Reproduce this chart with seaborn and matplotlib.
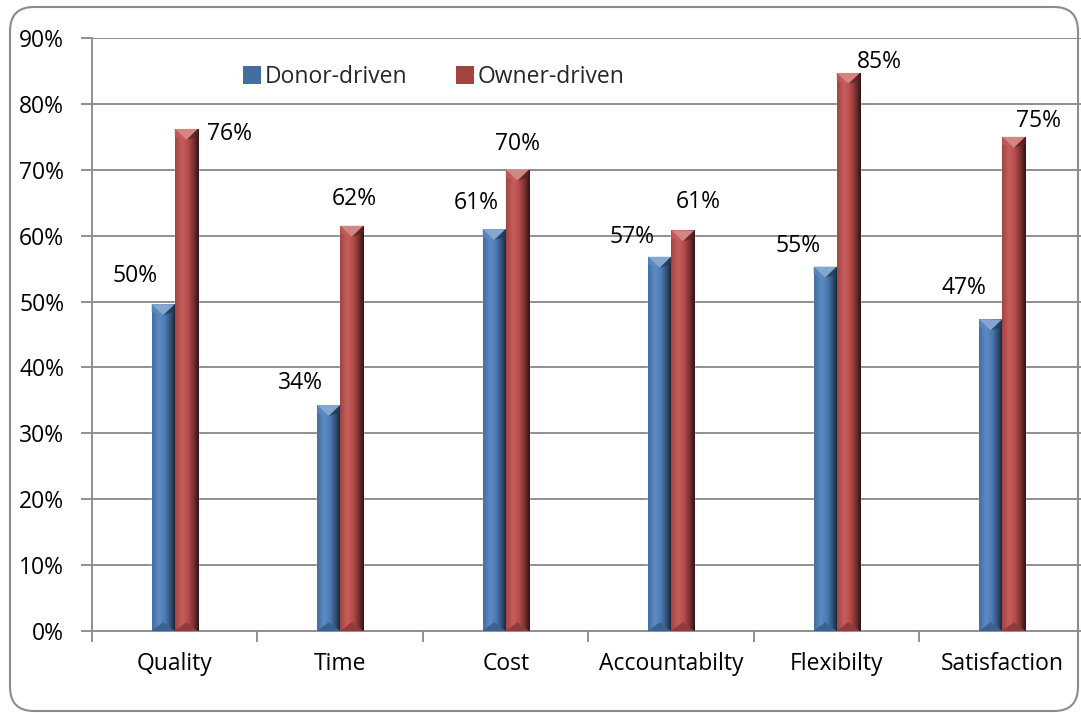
import numpy as np
import pandas as pd
import matplotlib
matplotlib.use("Agg")
import matplotlib.pyplot as plt
import matplotlib.colors as mcolors
from matplotlib.patches import FancyBboxPatch, Polygon, Patch
from matplotlib.ticker import PercentFormatter, FixedLocator
import seaborn as sns

categories = ["Quality", "Time", "Cost", "Accountabilty", "Flexibilty", "Satisfaction"]
series = ["Donor-driven", "Owner-driven"]
donor_values = [0.496, 0.343, 0.610, 0.568, 0.553, 0.473]
owner_values = [0.762, 0.615, 0.700, 0.608, 0.847, 0.750]
label_values = [["50%", "34%", "61%", "57%", "55%", "47%"],
                ["76%", "62%", "70%", "61%", "85%", "75%"]]
yticks = [0.0, 0.1, 0.2, 0.3, 0.4, 0.5, 0.6, 0.7, 0.8, 0.9]

# label offsets (pixels) from the top-centre of each bar
label_offsets = [
    [(-28, 28), (-28, 22), (-18, 26), (-28, 20), (-27, 21), (-27, 31)],
    [(43, -5), (2, 27), (0, 26), (15, 28), (31, 11), (25, 16)],
]
base_colors = ["#4F81BD", "#C0504D"]

df = pd.DataFrame({
    "category": categories * 2,
    "series": [series[0]] * len(categories) + [series[1]] * len(categories),
    "value": donor_values + owner_values,
})

sns.set_theme(style="white")
plt.rcParams["font.family"] = ["Open Sans", "DejaVu Sans"]
FS = 16.5

W, H = 1081, 713
fig = plt.figure(figsize=(W / 100, H / 100), dpi=100)
ax = fig.add_axes([92 / W, 1 - 631 / H, (1085 - 92) / W, (631 - 38) / H])

sns.barplot(data=df, x="category", y="value", hue="series", order=categories,
            hue_order=series, palette=dict(zip(series, base_colors)),
            width=0.28, gap=0, saturation=1, legend=False, ax=ax, zorder=3)

ax.set_xlim(-0.5, len(categories) - 0.5)
ax.set_ylim(0, 0.9)
ax.yaxis.set_major_locator(FixedLocator(yticks))
ax.yaxis.set_major_formatter(PercentFormatter(1.0, decimals=0))
ax.set_xlabel("")
ax.set_ylabel("")

grid_col = "#8f8f8f"
ax.grid(axis="y", color=grid_col, linewidth=1.4, zorder=0)
ax.set_axisbelow(True)
for side in ["top", "right"]:
    ax.spines[side].set_visible(False)
for side in ["left", "bottom"]:
    ax.spines[side].set_color(grid_col)
    ax.spines[side].set_linewidth(1.4)

ax.tick_params(axis="y", which="major", direction="out", length=8, width=1.4,
               color=grid_col, labelsize=FS, pad=12, left=True)
ax.tick_params(axis="x", which="major", length=0, labelsize=FS, pad=15)
ax.set_xticks(np.arange(-0.5, len(categories)), minor=True)
ax.tick_params(axis="x", which="minor", direction="out", length=8, width=1.4,
               color=grid_col, bottom=True)
for t in ax.get_xticklabels() + ax.get_yticklabels():
    t.set_color("#000000")


def shade(color, f):
    r, g, b = mcolors.to_rgb(color)
    if f >= 1:
        k = f - 1
        return (r + (1 - r) * k, g + (1 - g) * k, b + (1 - b) * k)
    return (r * f, g * f, b * f)


px_per_unit = (631 - 38) / 0.9
bevel = 11 / px_per_unit

for i, container in enumerate(ax.containers):
    base = base_colors[i]
    cmap = mcolors.LinearSegmentedColormap.from_list(
        f"cyl{i}",
        [(0.0, shade(base, 0.85)), (0.3, shade(base, 1.08)), (0.55, shade(base, 0.95)),
         (0.8, shade(base, 0.6)), (1.0, shade(base, 0.25))])
    grad = np.linspace(0, 1, 64).reshape(1, -1)
    for j, bar in enumerate(container):
        x0 = bar.get_x()
        w = bar.get_width()
        h = bar.get_height()
        im = ax.imshow(grad, cmap=cmap, extent=[x0, x0 + w, 0, h],
                       aspect="auto", zorder=4, interpolation="bilinear")
        im.set_clip_path(bar)
        xc = x0 + w / 2
        # bevelled caps at top and bottom
        ax.add_patch(Polygon([(x0, h), (x0 + w, h), (xc, h - bevel)], closed=True,
                             facecolor=shade(base, 1.3), edgecolor="none", zorder=5))
        ax.add_patch(Polygon([(x0, h), (xc, h - bevel), (x0, h - bevel * 0.7)], closed=True,
                             facecolor=shade(base, 1.08), edgecolor="none", zorder=5, alpha=0.7))
        ax.add_patch(Polygon([(x0 + w, h), (xc, h - bevel), (x0 + w, h - bevel * 0.7)],
                             closed=True, facecolor=shade(base, 0.45), edgecolor="none",
                             zorder=5, alpha=0.7))
        ax.add_patch(Polygon([(x0, 0), (x0 + w, 0), (xc, bevel * 0.8)], closed=True,
                             facecolor=shade(base, 0.75), edgecolor="none", zorder=5))
        dx, dy = label_offsets[i][j]
        ax.annotate(label_values[i][j], xy=(xc, h), xytext=(dx, dy),
                    textcoords="offset pixels", ha="center", va="center",
                    fontsize=FS, color="#000000", zorder=6)

handles = [Patch(facecolor=shade(c, 0.85), edgecolor="none") for c in base_colors]
ax.legend(handles, series, loc="center left",
          bbox_to_anchor=((243 - 92) / (1085 - 92), 1 - (77 - 38) / (631 - 38)),
          ncol=2, frameon=False, fontsize=FS, handlelength=0.8, handleheight=0.8,
          handletextpad=0.15, columnspacing=2.1, borderaxespad=0, borderpad=0)

frame = FancyBboxPatch((10, 2), 1068, 704, boxstyle="round,pad=0,rounding_size=24",
                       transform=None, facecolor="none", edgecolor="#8c8c8c", linewidth=1.5)
fig.patches.append(frame)

fig.savefig("out.png", dpi=100)
